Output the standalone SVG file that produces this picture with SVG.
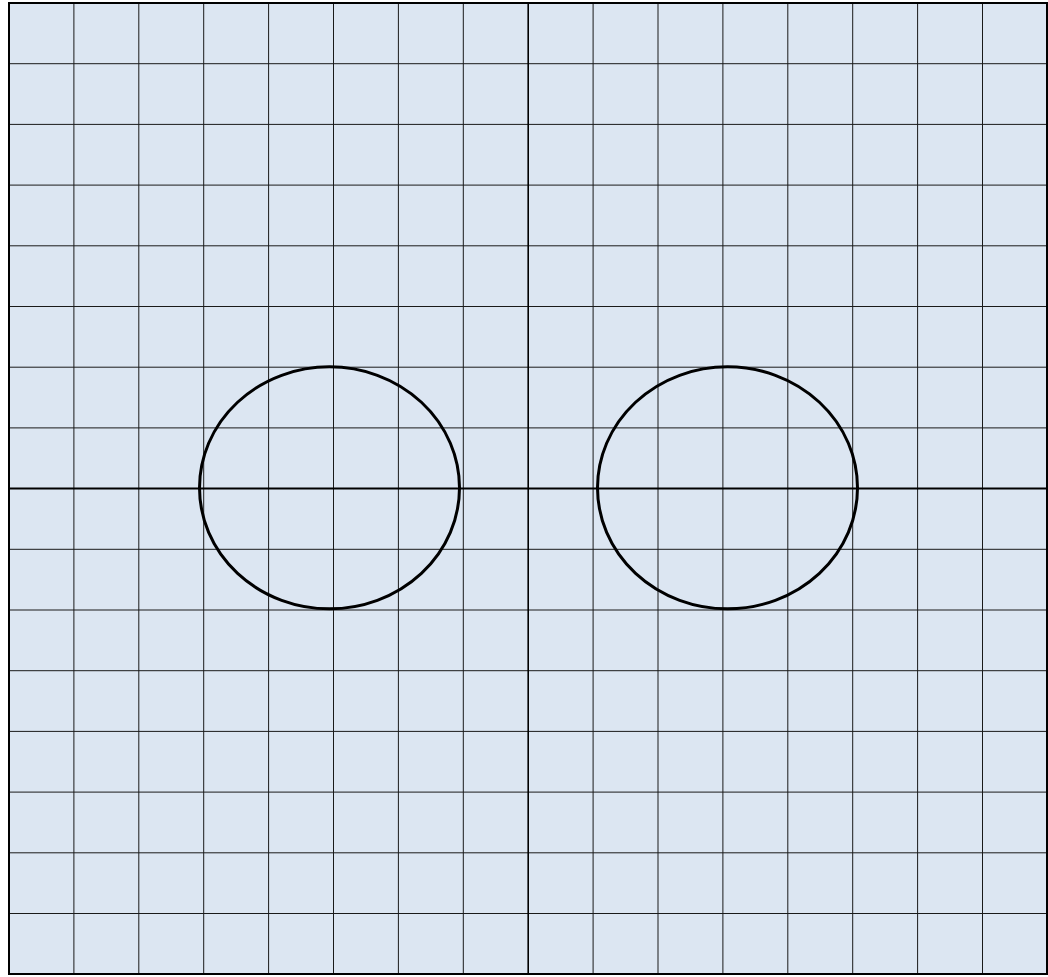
<svg xmlns="http://www.w3.org/2000/svg" width="1048" height="977" viewBox="0 0 1048 977">
<style>
.g{stroke:#1a1a1a;stroke-width:1;fill:none}
.ax{stroke:#000;stroke-width:2;fill:none}
.c{stroke:#000;stroke-width:3;fill:none}
</style>
<rect x="0" y="0" width="1048" height="977" fill="#ffffff"/>
<rect x="9" y="3" width="1038" height="971" fill="#dce6f2"/>
<g id="grid">
<path class="g" d="M73.9 3V974M138.8 3V974M203.7 3V974M268.6 3V974M333.5 3V974M398.4 3V974M463.3 3V974M593.1 3V974M658 3V974M722.9 3V974M787.8 3V974M852.7 3V974M917.6 3V974M982.5 3V974"/>
<path class="g" d="M9 63.7H1047M9 124.4H1047M9 185.1H1047M9 245.8H1047M9 306.5H1047M9 367.2H1047M9 427.9H1047M9 549.3H1047M9 610H1047M9 670.7H1047M9 731.4H1047M9 792.1H1047M9 852.8H1047M9 913.5H1047"/>
</g>
<g id="axes">
<path class="ax" d="M9 488.6H1047"/>
<path class="ax" style="stroke-width:1.6" d="M528.2 3V974"/>
</g>
<rect x="9" y="3" width="1038" height="971" fill="none" stroke="#000" stroke-width="2"/>
<g id="circle-left"><ellipse class="c" cx="329.5" cy="487.8" rx="130" ry="121"/></g>
<g id="circle-right"><ellipse class="c" cx="727.5" cy="487.8" rx="130" ry="121"/></g>
</svg>
